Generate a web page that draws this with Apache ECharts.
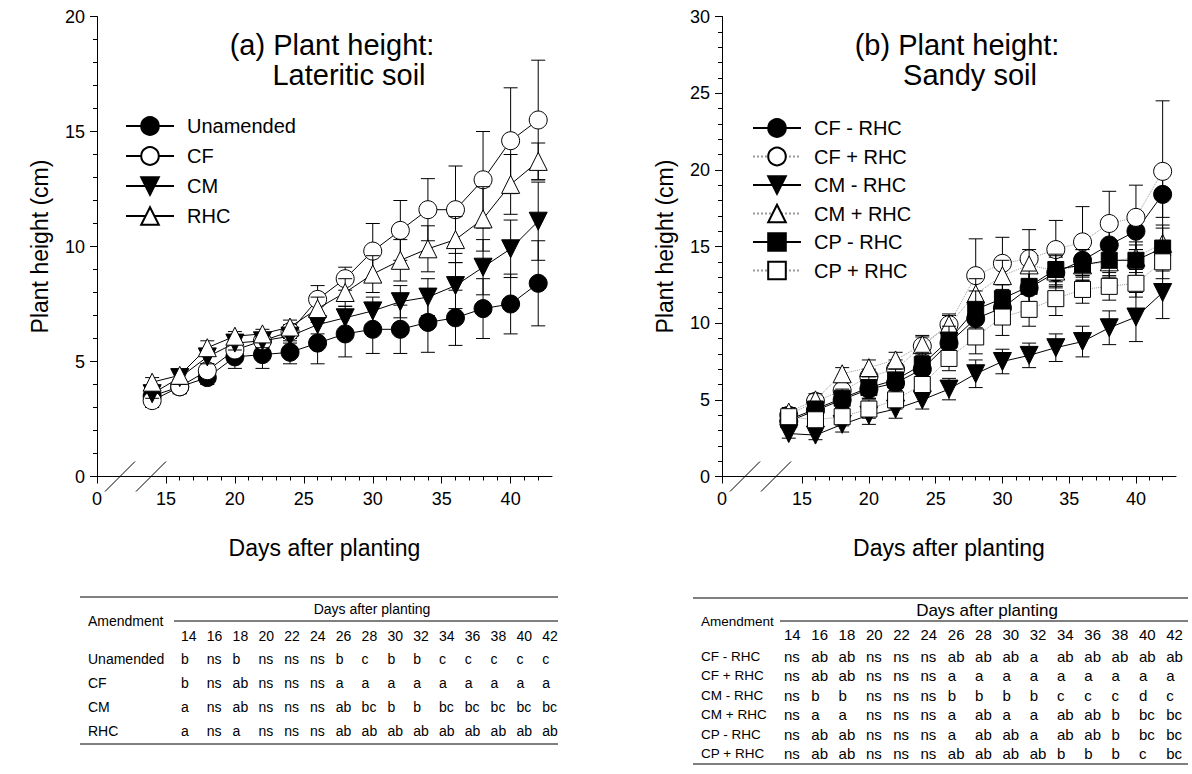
<!DOCTYPE html>
<html>
<head>
<meta charset="utf-8">
<script src="https://cdn.jsdelivr.net/npm/echarts@6/dist/echarts.min.js"></script>
<style>
  html, body { margin: 0; padding: 0; background: #fff; }
  #chart { width: 1192px; height: 774px; }
</style>
</head>
<body>
<div id="chart"></div>
<script>
// sampling days (both soils)
const days = [14, 16, 18, 20, 22, 24, 26, 28, 30, 32, 34, 36, 38, 40, 42];

// (a) lateritic soil, mean and sd (cm)
const latUnamended = [3.5, 3.9, 4.3, 5.2, 5.3, 5.4, 5.8, 6.2, 6.4, 6.4, 6.7, 6.9, 7.3, 7.5, 8.4];
const latUnamendedSd = [0.3, 0.3, 0.3, 0.5, 0.6, 0.5, 0.9, 1.0, 1.05, 1.05, 1.3, 1.2, 1.3, 1.3, 1.85];
const latCF = [3.3, 3.9, 4.6, 5.5, 5.9, 6.3, 7.7, 8.6, 9.8, 10.7, 11.6, 11.6, 12.9, 14.6, 15.5];
const latCFSd = [0.3, 0.3, 0.3, 0.3, 0.3, 0.3, 0.6, 0.5, 1.2, 1.3, 1.35, 1.9, 2.1, 2.3, 2.6];
const latCM = [3.6, 4.3, 5.2, 5.8, 5.9, 6.1, 6.6, 6.9, 7.2, 7.6, 7.8, 8.3, 9.1, 9.9, 11.1];
const latCMSd = [0.2, 0.3, 0.3, 0.3, 0.3, 0.3, 0.4, 0.5, 0.6, 0.7, 0.8, 1.0, 1.2, 1.25, 1.7];
const latRHC = [4.1, 4.4, 5.6, 6.1, 6.2, 6.5, 7.3, 8.0, 8.8, 9.4, 9.9, 10.3, 11.2, 12.7, 13.7];
const latRHCSd = [0.2, 0.2, 0.3, 0.2, 0.2, 0.3, 0.5, 0.6, 0.8, 0.9, 1.0, 1.0, 1.4, 1.3, 0.8];

// (b) sandy soil, mean and sd (cm)
const sandCFminus = [3.6, 4.3, 5.0, 5.7, 6.1, 7.0, 8.7, 10.3, 11.0, 12.3, 13.3, 14.1, 15.1, 16.0, 18.4];
const sandCFminusSd = [0.4, 0.5, 0.6, 0.6, 0.7, 0.8, 0.9, 1.2, 1.0, 1.0, 1.0, 1.0, 1.2, 1.2, 1.5];
const sandCFplus = [4.0, 4.9, 5.6, 6.5, 7.0, 8.5, 9.9, 13.1, 13.9, 14.2, 14.8, 15.3, 16.5, 16.9, 19.9];
const sandCFplusSd = [0.3, 0.4, 0.5, 0.5, 0.6, 0.6, 0.6, 2.4, 1.7, 1.9, 1.9, 2.3, 2.1, 2.1, 4.6];
const sandCMminus = [2.8, 2.7, 3.4, 4.0, 4.4, 5.0, 5.7, 6.7, 7.5, 7.9, 8.4, 8.8, 9.7, 10.4, 12.0];
const sandCMminusSd = [0.3, 0.3, 0.5, 0.6, 0.6, 0.6, 0.7, 0.9, 0.8, 0.8, 0.9, 1.0, 1.1, 1.6, 1.7];
const sandCMplus = [4.2, 5.0, 6.7, 7.1, 7.6, 8.6, 9.9, 11.9, 13.1, 13.8, 13.4, 13.8, 14.0, 14.3, 15.2];
const sandCMplusSd = [0.3, 0.4, 0.4, 0.5, 0.5, 0.6, 0.7, 1.0, 1.0, 1.0, 1.0, 1.0, 1.0, 1.0, 1.0];
const sandCPminus = [3.7, 4.4, 5.1, 5.8, 6.3, 7.3, 8.9, 10.9, 11.6, 12.4, 13.5, 13.8, 14.1, 14.1, 14.9];
const sandCPminusSd = [0.4, 0.5, 0.6, 0.7, 0.7, 0.8, 0.9, 1.2, 0.9, 1.0, 1.0, 1.0, 1.0, 1.0, 1.5];
const sandCPplus = [3.9, 3.7, 3.9, 4.4, 5.0, 6.0, 7.7, 9.1, 10.4, 10.9, 11.6, 12.2, 12.4, 12.6, 14.0];
const sandCPplusSd = [0.4, 0.4, 0.6, 0.6, 0.6, 0.7, 0.8, 1.1, 1.2, 1.1, 1.1, 0.9, 0.9, 0.9, 1.1];

// tick labels (first one sits before the axis break and reads 0)
const latTicks = [10, 15, 20, 25, 30, 35, 40];
const sandTicks = [9, 15, 20, 25, 30, 35, 40];

// significance letters below each panel
const latRows = ['Unamended', 'CF', 'CM', 'RHC'];
const latLetters = [
  ['b', 'ns', 'b', 'ns', 'ns', 'ns', 'b', 'c', 'b', 'b', 'c', 'c', 'c', 'c', 'c'],
  ['b', 'ns', 'ab', 'ns', 'ns', 'ns', 'a', 'a', 'a', 'a', 'a', 'a', 'a', 'a', 'a'],
  ['a', 'ns', 'ab', 'ns', 'ns', 'ns', 'ab', 'bc', 'b', 'b', 'bc', 'bc', 'bc', 'bc', 'bc'],
  ['a', 'ns', 'a', 'ns', 'ns', 'ns', 'ab', 'ab', 'ab', 'ab', 'ab', 'ab', 'ab', 'ab', 'ab']
];
const sandRows = ['CF - RHC', 'CF + RHC', 'CM - RHC', 'CM + RHC', 'CP - RHC', 'CP + RHC'];
const sandLetters = [
  ['ns', 'ab', 'ab', 'ns', 'ns', 'ns', 'ab', 'ab', 'ab', 'a', 'ab', 'ab', 'ab', 'ab', 'ab'],
  ['ns', 'ab', 'ab', 'ns', 'ns', 'ns', 'a', 'a', 'a', 'a', 'a', 'a', 'a', 'a', 'a'],
  ['ns', 'b', 'b', 'ns', 'ns', 'ns', 'b', 'b', 'b', 'b', 'c', 'c', 'c', 'd', 'c'],
  ['ns', 'a', 'a', 'ns', 'ns', 'ns', 'a', 'ab', 'a', 'a', 'ab', 'ab', 'b', 'bc', 'bc'],
  ['ns', 'ab', 'ab', 'ns', 'ns', 'ns', 'a', 'ab', 'ab', 'a', 'ab', 'ab', 'b', 'bc', 'bc'],
  ['ns', 'ab', 'ab', 'ns', 'ns', 'ns', 'ab', 'ab', 'ab', 'ab', 'b', 'b', 'b', 'c', 'bc']
];

const FONT = 'Liberation Sans, Arial, Helvetica, sans-serif';
const chart = echarts.init(document.getElementById('chart'), null, { renderer: 'svg' });

function minorTicks(from, to) {
  const out = [];
  for (let v = from; v <= to; v++) if (v % 5 !== 0) out.push(v);
  return out;
}

function errBar(params, api) {
  const x = api.value(0), m = api.value(1), sd = api.value(2);
  const hi = api.coord([x, m + sd]);
  const lo = api.coord([x, m - sd]);
  const c = 7;
  const st = () => ({ stroke: '#000', lineWidth: 1 });
  return {
    type: 'group',
    children: [
      { type: 'line', shape: { x1: hi[0], y1: hi[1], x2: lo[0], y2: lo[1] }, style: st() },
      { type: 'line', shape: { x1: hi[0] - c, y1: hi[1], x2: hi[0] + c, y2: hi[1] }, style: st() },
      { type: 'line', shape: { x1: lo[0] - c, y1: lo[1], x2: lo[0] + c, y2: lo[1] }, style: st() }
    ]
  };
}

const SYM = {
  circle: { symbol: 'circle', symbolSize: 18, symbolRotate: 0 },
  down: { symbol: 'triangle', symbolSize: 18, symbolRotate: 180 },
  up: { symbol: 'triangle', symbolSize: 18, symbolRotate: 0 },
  square: { symbol: 'rect', symbolSize: 16, symbolRotate: 0 }
};

const series = [];
let zc = 2;
function addSeries(name, vals, sds, sym, filled, dotted, gi) {
  series.push({
    name: name + ' sd', type: 'custom', xAxisIndex: gi * 2, yAxisIndex: gi,
    data: days.map((d, i) => [d, vals[i], sds[i]]),
    encode: { x: 0, y: 1 },
    renderItem: errBar, silent: true, z: zc++
  });
  series.push({
    name: name, type: 'line', xAxisIndex: gi * 2, yAxisIndex: gi,
    data: days.map((d, i) => [d, vals[i]]),
    symbol: sym.symbol, symbolSize: sym.symbolSize, symbolRotate: sym.symbolRotate,
    showSymbol: true, silent: true, z: zc++,
    itemStyle: { color: filled ? '#000' : '#fff', borderColor: '#000', borderWidth: 1 },
    lineStyle: { color: dotted ? '#9a9a9a' : '#000', width: 1, type: dotted ? 'dotted' : 'solid' },
    emphasis: { disabled: true }
  });
}

addSeries('Unamended', latUnamended, latUnamendedSd, SYM.circle, true, false, 0);
addSeries('CF', latCF, latCFSd, SYM.circle, false, false, 0);
addSeries('CM', latCM, latCMSd, SYM.down, true, false, 0);
addSeries('RHC', latRHC, latRHCSd, SYM.up, false, false, 0);

addSeries('CF - RHC', sandCFminus, sandCFminusSd, SYM.circle, true, false, 1);
addSeries('CF + RHC', sandCFplus, sandCFplusSd, SYM.circle, false, true, 1);
addSeries('CM - RHC', sandCMminus, sandCMminusSd, SYM.down, true, false, 1);
addSeries('CM + RHC', sandCMplus, sandCMplusSd, SYM.up, false, true, 1);
addSeries('CP - RHC', sandCPminus, sandCPminusSd, SYM.square, true, false, 1);
addSeries('CP + RHC', sandCPplus, sandCPplusSd, SYM.square, false, true, 1);

const axisText = { color: '#000', fontFamily: FONT };

function xMajor(gi, min, ticks) {
  return {
    gridIndex: gi, type: 'value', position: 'bottom', min: min, max: 43,
    axisLine: { onZero: false, lineStyle: { color: '#000', width: 1 } },
    axisTick: { customValues: ticks, length: 7, lineStyle: { color: '#000' } },
    axisLabel: Object.assign({ customValues: ticks, fontSize: 18, margin: 13,
      formatter: v => (v === min ? '0' : String(v)) }, axisText),
    splitLine: { show: false },
    name: 'Days after planting', nameLocation: 'middle', nameGap: 60,
    nameTextStyle: Object.assign({ fontSize: 23 }, axisText)
  };
}
function xMinor(gi, min) {
  return {
    gridIndex: gi, type: 'value', position: 'bottom', min: min, max: 43,
    axisLine: { show: false },
    axisTick: { customValues: minorTicks(16, 42), length: 4, lineStyle: { color: '#000' } },
    axisLabel: { show: false }, splitLine: { show: false }
  };
}
function yAxis(gi, max) {
  return {
    gridIndex: gi, type: 'value', min: 0, max: max, interval: 5,
    axisLine: { show: true, lineStyle: { color: '#000', width: 1 } },
    axisTick: { show: true, length: 7, lineStyle: { color: '#000' } },
    minorTick: { show: true, splitNumber: 5, length: 4, lineStyle: { color: '#000' } },
    axisLabel: Object.assign({ fontSize: 18, margin: 12 }, axisText),
    splitLine: { show: false },
    name: 'Plant height (cm)', nameLocation: 'middle', nameGap: 46,
    nameTextStyle: Object.assign({ fontSize: 23 }, axisText)
  };
}

function legend(names, left, top, gap) {
  return {
    data: names, orient: 'vertical', left: left, top: top, padding: 0,
    itemWidth: 48, itemHeight: 22, itemGap: gap, selectedMode: false,
    textStyle: { fontSize: 20, color: '#000', fontFamily: FONT, padding: [0, 0, 0, 8] }
  };
}

chart.setOption({
  animation: false,
  backgroundColor: '#fff',
  grid: [
    { left: 97, top: 16.5, width: 455, height: 460 },
    { left: 722, top: 16.5, width: 454, height: 460 }
  ],
  xAxis: [xMajor(0, 10, latTicks), xMinor(0, 10), xMajor(1, 9, sandTicks), xMinor(1, 9)],
  yAxis: [yAxis(0, 20), yAxis(1, 30)],
  legend: [
    legend(['Unamended', 'CF', 'CM', 'RHC'], 125, 116, 10),
    legend(sandRows, 752, 118, 8.5)
  ],
  series: series
});

// titles, axis breaks and the letter tables
const g = [];
function txt(text, x, y, size, align) {
  g.push({
    type: 'text', x: x, y: y, silent: true,
    style: { text: text, fontSize: size, fontFamily: FONT, fill: '#000',
      align: align || 'left', verticalAlign: 'middle',
      textAlign: align || 'left', textVerticalAlign: 'middle' }
  });
}
function ln(x1, y1, x2, y2) {
  g.push({ type: 'line', silent: true, shape: { x1, y1, x2, y2 }, style: { stroke: '#000', lineWidth: 1 } });
}

txt('(a) Plant height:', 332, 45, 29, 'center');
txt('Lateritic soil', 349, 75, 29, 'center');
txt('(b) Plant height:', 957, 45, 29, 'center');
txt('Sandy soil', 970, 75, 29, 'center');

[[0, 10], [1, 9]].forEach(([gi, min]) => {
  const x0 = chart.convertToPixel({ xAxisIndex: gi * 2 }, min);
  const y0 = chart.convertToPixel({ yAxisIndex: gi }, 0);
  [23, 54].forEach(off => ln(x0 + off - 15, y0 + 15, x0 + off + 15, y0 - 15));
});

function table(rows, letters, o) {
  ln(o.left, o.top, o.right, o.top);
  txt('Days after planting', o.daysX, o.top + 12, o.headSize, 'center');
  txt('Amendment', o.labelX, o.ruleY, o.labelSize);
  ln(o.ruleX, o.ruleY, o.right, o.ruleY);
  days.forEach((d, i) => txt(String(d), o.col0 + i * o.colW, o.numY, o.size));
  rows.forEach((name, r) => {
    const y = o.row0 + r * o.rowH;
    txt(name, o.labelX, y, o.labelSize);
    letters[r].forEach((s, i) => txt(s, o.col0 + i * o.colW, y, o.size));
  });
  ln(o.left, o.bottom, o.right, o.bottom);
}

table(latRows, latLetters, {
  left: 80, right: 558, top: 597, bottom: 744, daysX: 372, headSize: 14, size: 14, labelSize: 14,
  labelX: 88, ruleX: 174, ruleY: 621, col0: 181, colW: 25.8, numY: 636, row0: 659, rowH: 24
});
table(sandRows, sandLetters, {
  left: 693, right: 1188, top: 598, bottom: 764, daysX: 987, headSize: 17, size: 15, labelSize: 13.5,
  labelX: 701, ruleX: 780, ruleY: 621, col0: 784, colW: 27.3, numY: 634, row0: 656, rowH: 19.5
});

chart.setOption({ graphic: g });
</script>
</body>
</html>
